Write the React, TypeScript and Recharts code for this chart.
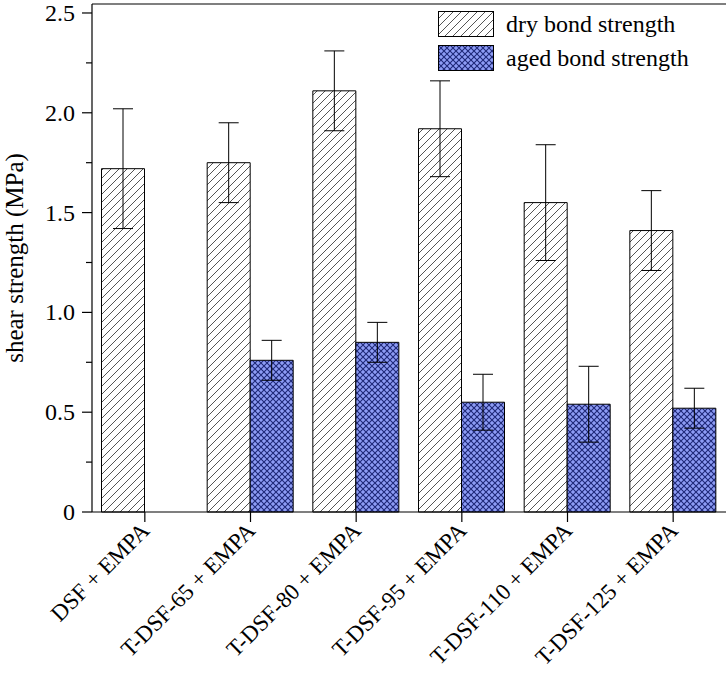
import React from "react";
import { BarChart, Bar, XAxis, YAxis, ErrorBar } from "recharts";

// ─── Data ────────────────────────────────────────────────────────────────────

const categories = [
  "DSF + EMPA",
  "T-DSF-65 + EMPA",
  "T-DSF-80 + EMPA",
  "T-DSF-95 + EMPA",
  "T-DSF-110 + EMPA",
  "T-DSF-125 + EMPA",
];
const dryValues = [1.72, 1.75, 2.11, 1.92, 1.55, 1.41];
const dryErrors = [0.3, 0.2, 0.2, 0.24, 0.29, 0.2];
const agedValues: (number | null)[] = [null, 0.76, 0.85, 0.55, 0.54, 0.52];
const agedErrors: (number | null)[] = [null, 0.1, 0.1, 0.14, 0.19, 0.1];
const yTicks = [0, 0.25, 0.5, 0.75, 1, 1.25, 1.5, 1.75, 2, 2.25, 2.5];
const yMajor = [0, 0.5, 1, 1.5, 2, 2.5];
const yMax = 2.545;

const data = categories.map((name, i) => ({
  name,
  dry: dryValues[i],
  dryErr: dryErrors[i],
  aged: agedValues[i],
  agedErr: agedErrors[i],
}));

const FONT = "Liberation Serif, Times New Roman, serif";

// ─── Patterns ────────────────────────────────────────────────────────────────

function Patterns({ prefix }: { prefix: string }) {
  return (
    <defs>
      <pattern id={`${prefix}-hatch`} patternUnits="userSpaceOnUse" width={8} height={8}>
        <rect width={8} height={8} fill="#fff" />
        <path d="M-2,2 l4,-4 M0,8 l8,-8 M6,10 l4,-4" stroke="#555" strokeWidth={1} />
      </pattern>
      <pattern id={`${prefix}-cross`} patternUnits="userSpaceOnUse" width={6} height={6}>
        <rect width={6} height={6} fill="#8d9cf5" />
        <path d="M0,0 L6,6 M6,0 L0,6" stroke="#1e2878" strokeWidth={1.1} />
      </pattern>
    </defs>
  );
}

// ─── Ticks ───────────────────────────────────────────────────────────────────

function YTick(props: any) {
  const { x, y, payload } = props;
  const v = payload.value as number;
  const major = yMajor.some((m) => Math.abs(m - v) < 1e-6);
  const axisX = x + 17;
  return (
    <g>
      <line x1={axisX - (major ? 10 : 6)} x2={axisX} y1={y} y2={y} stroke="#000" strokeWidth={1.2} />
      {major && (
        <text x={x} y={y} dy={8} textAnchor="end" fontSize={24} fontFamily={FONT} fill="#000">
          {v === 0 ? "0" : v.toFixed(1)}
        </text>
      )}
    </g>
  );
}

function XTick(props: any) {
  const { x, y, payload } = props;
  return (
    <g transform={`translate(${x + 6},${y + 8})`}>
      <text transform="rotate(-45)" textAnchor="end" fontSize={23} fontFamily={FONT} fill="#000">
        {payload.value}
      </text>
    </g>
  );
}

// ─── Legend ──────────────────────────────────────────────────────────────────

function LegendBox() {
  const rows = [
    { label: "dry bond strength", fill: "url(#lg-hatch)" },
    { label: "aged bond strength", fill: "url(#lg-cross)" },
  ];
  return (
    <div
      style={{
        position: "absolute",
        left: 438,
        top: 7,
        fontFamily: FONT,
        fontSize: 24,
        color: "#000",
        lineHeight: 1,
      }}
    >
      {rows.map((r) => (
        <div key={r.label} style={{ display: "flex", alignItems: "center", height: 34 }}>
          <svg width={57} height={27} style={{ marginRight: 11 }}>
            <Patterns prefix={r.label === rows[0].label ? "lg" : "lg2"} />
            <rect
              x={0.5}
              y={0.5}
              width={55}
              height={25}
              fill={r.label === rows[0].label ? "url(#lg-hatch)" : "url(#lg2-cross)"}
              stroke="#000"
              strokeWidth={1}
            />
          </svg>
          <span>{r.label}</span>
        </div>
      ))}
    </div>
  );
}

// ─── Chart ───────────────────────────────────────────────────────────────────

export default function App() {
  return (
    <div
      style={{
        position: "absolute",
        left: 0,
        top: 0,
        width: 728,
        height: 689,
        background: "#fff",
        fontFamily: FONT,
      }}
    >
      <BarChart
        width={728}
        height={689}
        data={data}
        margin={{ top: 3, right: 2, left: 0, bottom: 0 }}
        barCategoryGap="9%"
        barGap={0}
      >
        <Patterns prefix="ch" />
        <XAxis
          dataKey="name"
          height={177}
          interval={0}
          tickSize={10}
          tickMargin={2}
          tick={<XTick />}
          axisLine={{ stroke: "#000", strokeWidth: 1.2 }}
          tickLine={{ stroke: "#000", strokeWidth: 1.2 }}
        />
        <XAxis
          xAxisId="top"
          dataKey="name"
          orientation="top"
          height={1}
          tick={false}
          tickLine={false}
          axisLine={{ stroke: "#000", strokeWidth: 1.2 }}
        />
        <YAxis
          domain={[0, yMax]}
          ticks={yTicks}
          interval={0}
          width={92}
          tickSize={10}
          tickMargin={7}
          tickLine={false}
          tick={<YTick />}
          axisLine={{ stroke: "#000", strokeWidth: 1.2 }}
          label={{
            content: (p: any) => {
              const vb = p.viewBox;
              const cx = 23;
              const cy = vb.y + vb.height / 2;
              return (
                <text
                  x={cx}
                  y={cy}
                  transform={`rotate(-90 ${cx} ${cy})`}
                  textAnchor="middle"
                  fontSize={25}
                  fontFamily={FONT}
                  fill="#000"
                >
                  shear strength (MPa)
                </text>
              );
            },
          }}
        />
        <YAxis
          yAxisId="right"
          orientation="right"
          domain={[0, yMax]}
          width={0}
          tick={false}
          tickLine={false}
          axisLine={{ stroke: "#000", strokeWidth: 1.2 }}
        />
        <Bar dataKey="dry" fill="url(#ch-hatch)" stroke="#000" strokeWidth={1} isAnimationActive={false}>
          <ErrorBar dataKey="dryErr" width={10} stroke="#000" strokeWidth={1} direction="y" />
        </Bar>
        <Bar dataKey="aged" fill="url(#ch-cross)" stroke="#000" strokeWidth={1} isAnimationActive={false}>
          <ErrorBar dataKey="agedErr" width={10} stroke="#000" strokeWidth={1} direction="y" />
        </Bar>
      </BarChart>
      <LegendBox />
    </div>
  );
}
